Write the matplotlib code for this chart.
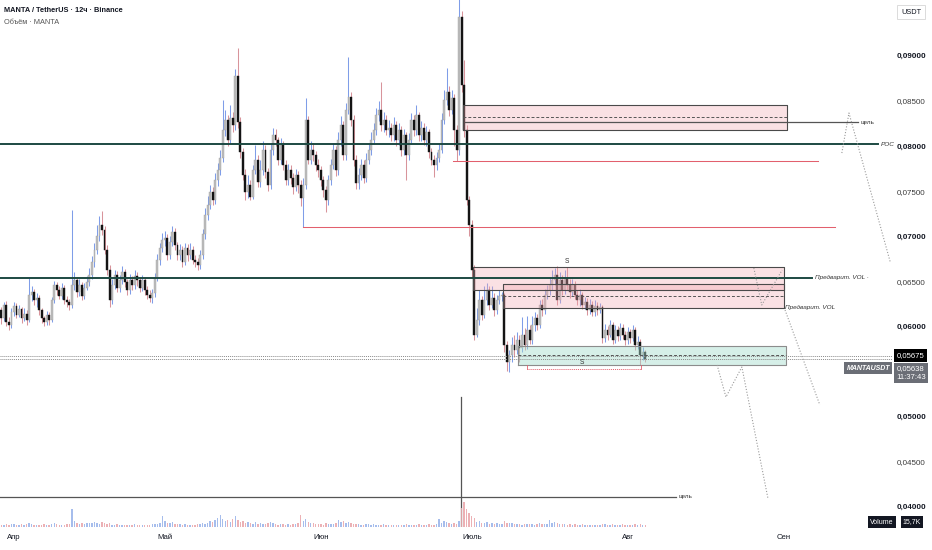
import matplotlib
matplotlib.use('Agg')
import matplotlib.pyplot as plt
import numpy as np
import pandas as pd

# MANTA/USDT 12h candles, first bar opens 29 Mar
t0 = pd.Timestamp('2025-03-29 00:00')
first_open = 0.0612
closes = [
    0.0618, 0.0609, 0.0624, 0.0605, 0.0601, 0.0616, 0.0623, 0.0613, 0.0619, 0.0609,
    0.0614, 0.0607, 0.0635, 0.0638, 0.0629, 0.0632, 0.0618, 0.0609, 0.0605, 0.0613,
    0.0607, 0.0629, 0.0646, 0.0640, 0.0634, 0.0643, 0.0629, 0.0627, 0.0624, 0.0646,
    0.0651, 0.0638, 0.0646, 0.0634, 0.0643, 0.0649, 0.0657, 0.0671, 0.0685, 0.0700,
    0.0712, 0.0707, 0.0685, 0.0663, 0.0629, 0.0646, 0.0657, 0.0643, 0.0651, 0.0660,
    0.0649, 0.0640, 0.0651, 0.0646, 0.0656, 0.0651, 0.0643, 0.0651, 0.0640, 0.0635,
    0.0632, 0.0637, 0.0654, 0.0674, 0.0687, 0.0696, 0.0698, 0.0679, 0.0694, 0.0705,
    0.0690, 0.0679, 0.0685, 0.0671, 0.0687, 0.0679, 0.0685, 0.0674, 0.0671, 0.0668,
    0.0679, 0.0702, 0.0724, 0.0735, 0.0749, 0.0740, 0.0762, 0.0773, 0.0787, 0.0818,
    0.0829, 0.0807, 0.0831, 0.0823, 0.0878, 0.0827, 0.0793, 0.0768, 0.0749, 0.0757,
    0.0743, 0.0773, 0.0785, 0.0760, 0.0773, 0.0796, 0.0771, 0.0757, 0.0796, 0.0812,
    0.0807, 0.0785, 0.0801, 0.0779, 0.0762, 0.0773, 0.0765, 0.0754, 0.0768, 0.0757,
    0.0742, 0.0757, 0.0829, 0.0785, 0.0796, 0.0790, 0.0779, 0.0773, 0.0762, 0.0751,
    0.0740, 0.0762, 0.0779, 0.0796, 0.0773, 0.0807, 0.0823, 0.0790, 0.0840, 0.0854,
    0.0829, 0.0785, 0.0759, 0.0768, 0.0779, 0.0765, 0.0785, 0.0796, 0.0807, 0.0818,
    0.0834, 0.0840, 0.0823, 0.0829, 0.0818, 0.0820, 0.0812, 0.0823, 0.0807, 0.0818,
    0.0796, 0.0812, 0.0790, 0.0807, 0.0829, 0.0818, 0.0834, 0.0812, 0.0820, 0.0807,
    0.0815, 0.0793, 0.0785, 0.0779, 0.0787, 0.0796, 0.0829, 0.0851, 0.0860, 0.0840,
    0.0853, 0.0818, 0.0796, 0.0943, 0.0868, 0.0818, 0.0740, 0.0712, 0.0663, 0.0591,
    0.0607, 0.0629, 0.0613, 0.0629, 0.0640, 0.0624, 0.0632, 0.0618, 0.0629, 0.0634,
    0.0635, 0.0579, 0.0561, 0.0568, 0.0579, 0.0574, 0.0585, 0.0576, 0.0591, 0.0579,
    0.0596, 0.0585, 0.0602, 0.0609, 0.0602, 0.0624, 0.0618, 0.0635, 0.0640, 0.0646,
    0.0651, 0.0657, 0.0629, 0.0651, 0.0640, 0.0654, 0.0646, 0.0638, 0.0646, 0.0635,
    0.0629, 0.0635, 0.0624, 0.0627, 0.0618, 0.0624, 0.0616, 0.0623, 0.0618, 0.0621,
    0.0587, 0.0596, 0.0591, 0.0602, 0.0585, 0.0596, 0.0589, 0.0598, 0.0591, 0.0585,
    0.0594, 0.0587, 0.0596, 0.0579, 0.0583, 0.0568, 0.0572, 0.05638,
]
highs = [
    0.0624, 0.0622, 0.0627, 0.0628, 0.0610, 0.0620, 0.0627, 0.0626, 0.0624, 0.0622,
    0.0620, 0.0618, 0.0654, 0.0645, 0.0641, 0.0637, 0.0635, 0.0620, 0.0612, 0.0617,
    0.0616, 0.0633, 0.0650, 0.0649, 0.0645, 0.0648, 0.0646, 0.0634, 0.0630, 0.0729,
    0.0660, 0.0655, 0.0652, 0.0649, 0.0648, 0.0656, 0.0665, 0.0678, 0.0692, 0.0712,
    0.0722, 0.0728, 0.0711, 0.0690, 0.0668, 0.0652, 0.0663, 0.0661, 0.0657, 0.0667,
    0.0664, 0.0653, 0.0658, 0.0656, 0.0662, 0.0660, 0.0655, 0.0657, 0.0654, 0.0645,
    0.0640, 0.0642, 0.0659, 0.0680, 0.0693, 0.0703, 0.0706, 0.0702, 0.0700, 0.0711,
    0.0709, 0.0694, 0.0691, 0.0689, 0.0692, 0.0691, 0.0693, 0.0689, 0.0679, 0.0676,
    0.0685, 0.0708, 0.0731, 0.0745, 0.0757, 0.0754, 0.0770, 0.0781, 0.0796, 0.0851,
    0.0840, 0.0834, 0.0846, 0.0838, 0.0885, 0.0909, 0.0832, 0.0798, 0.0774, 0.0768,
    0.0762, 0.0779, 0.0801, 0.0790, 0.0785, 0.0806, 0.0801, 0.0776, 0.0803, 0.0820,
    0.0819, 0.0810, 0.0809, 0.0805, 0.0784, 0.0780, 0.0779, 0.0770, 0.0775, 0.0772,
    0.0762, 0.0765, 0.0853, 0.0833, 0.0805, 0.0803, 0.0795, 0.0786, 0.0778, 0.0767,
    0.0756, 0.0768, 0.0786, 0.0803, 0.0800, 0.0815, 0.0833, 0.0828, 0.0848, 0.0899,
    0.0860, 0.0834, 0.0790, 0.0776, 0.0786, 0.0784, 0.0792, 0.0803, 0.0815, 0.0826,
    0.0842, 0.0850, 0.0871, 0.0838, 0.0834, 0.0829, 0.0826, 0.0832, 0.0828, 0.0825,
    0.0822, 0.0819, 0.0816, 0.0814, 0.0837, 0.0834, 0.0845, 0.0838, 0.0828, 0.0825,
    0.0822, 0.0819, 0.0798, 0.0790, 0.0793, 0.0803, 0.0837, 0.0862, 0.0887, 0.0866,
    0.0862, 0.0858, 0.0823, 0.0985, 0.0950, 0.0895, 0.0823, 0.0745, 0.0718, 0.0668,
    0.0620, 0.0640, 0.0634, 0.0645, 0.0648, 0.0645, 0.0645, 0.0637, 0.0635, 0.0640,
    0.0638, 0.0637, 0.0584, 0.0574, 0.0588, 0.0590, 0.0594, 0.0590, 0.0610, 0.0598,
    0.0611, 0.0601, 0.0612, 0.0616, 0.0614, 0.0629, 0.0630, 0.0641, 0.0646, 0.0655,
    0.0663, 0.0665, 0.0667, 0.0660, 0.0657, 0.0662, 0.0666, 0.0652, 0.0652, 0.0650,
    0.0640, 0.0641, 0.0638, 0.0633, 0.0631, 0.0630, 0.0628, 0.0629, 0.0627, 0.0626,
    0.0624, 0.0603, 0.0600, 0.0607, 0.0605, 0.0601, 0.0600, 0.0604, 0.0603, 0.0595,
    0.0599, 0.0597, 0.0601, 0.0599, 0.0589, 0.0586, 0.0577, 0.0574,
]
lows = [
    0.0606, 0.0603, 0.0606, 0.0600, 0.0596, 0.0598, 0.0612, 0.0609, 0.0610, 0.0604,
    0.0606, 0.0602, 0.0605, 0.0628, 0.0624, 0.0622, 0.0613, 0.0604, 0.0600, 0.0602,
    0.0601, 0.0605, 0.0626, 0.0635, 0.0630, 0.0630, 0.0625, 0.0621, 0.0618, 0.0620,
    0.0640, 0.0633, 0.0634, 0.0629, 0.0630, 0.0640, 0.0645, 0.0652, 0.0666, 0.0680,
    0.0695, 0.0701, 0.0680, 0.0657, 0.0621, 0.0625, 0.0641, 0.0638, 0.0638, 0.0647,
    0.0644, 0.0635, 0.0636, 0.0640, 0.0642, 0.0645, 0.0638, 0.0639, 0.0635, 0.0630,
    0.0627, 0.0626, 0.0633, 0.0650, 0.0668, 0.0682, 0.0689, 0.0674, 0.0675, 0.0689,
    0.0685, 0.0674, 0.0674, 0.0666, 0.0668, 0.0673, 0.0675, 0.0669, 0.0666, 0.0662,
    0.0664, 0.0675, 0.0697, 0.0718, 0.0730, 0.0735, 0.0736, 0.0756, 0.0768, 0.0782,
    0.0811, 0.0800, 0.0803, 0.0815, 0.0818, 0.0820, 0.0787, 0.0762, 0.0740, 0.0742,
    0.0740, 0.0741, 0.0769, 0.0755, 0.0755, 0.0768, 0.0765, 0.0750, 0.0752, 0.0790,
    0.0800, 0.0779, 0.0780, 0.0773, 0.0757, 0.0757, 0.0758, 0.0747, 0.0750, 0.0748,
    0.0733, 0.0710, 0.0752, 0.0780, 0.0780, 0.0783, 0.0772, 0.0766, 0.0756, 0.0744,
    0.0727, 0.0735, 0.0757, 0.0774, 0.0767, 0.0768, 0.0800, 0.0784, 0.0785, 0.0835,
    0.0822, 0.0778, 0.0752, 0.0752, 0.0762, 0.0759, 0.0760, 0.0780, 0.0790, 0.0802,
    0.0812, 0.0828, 0.0817, 0.0815, 0.0812, 0.0810, 0.0805, 0.0806, 0.0800, 0.0801,
    0.0789, 0.0790, 0.0762, 0.0785, 0.0802, 0.0811, 0.0812, 0.0806, 0.0806, 0.0801,
    0.0800, 0.0787, 0.0779, 0.0766, 0.0773, 0.0782, 0.0792, 0.0824, 0.0845, 0.0833,
    0.0835, 0.0800, 0.0783, 0.0790, 0.0860, 0.0810, 0.0735, 0.0700, 0.0655, 0.0585,
    0.0588, 0.0602, 0.0607, 0.0609, 0.0624, 0.0618, 0.0620, 0.0612, 0.0614, 0.0625,
    0.0628, 0.0572, 0.0551, 0.0549, 0.0560, 0.0566, 0.0569, 0.0560, 0.0572, 0.0574,
    0.0575, 0.0580, 0.0580, 0.0595, 0.0596, 0.0598, 0.0612, 0.0614, 0.0630, 0.0635,
    0.0640, 0.0646, 0.0624, 0.0626, 0.0635, 0.0636, 0.0640, 0.0632, 0.0634, 0.0630,
    0.0624, 0.0623, 0.0619, 0.0619, 0.0613, 0.0614, 0.0611, 0.0612, 0.0613, 0.0615,
    0.0582, 0.0583, 0.0585, 0.0588, 0.0580, 0.0582, 0.0584, 0.0585, 0.0586, 0.0579,
    0.0581, 0.0582, 0.0584, 0.0574, 0.0575, 0.0557, 0.0563, 0.0561,
]
volumes_k = [
    20, 25, 18, 30, 22, 28, 35, 20, 25, 30,
    22, 28, 45, 30, 25, 20, 18, 26, 30, 22,
    25, 30, 40, 28, 24, 20, 26, 30, 35, 190,
    60, 45, 35, 40, 30, 38, 42, 45, 50, 40,
    35, 55, 40, 30, 45, 25, 22, 28, 20, 25,
    22, 18, 25, 20, 28, 22, 18, 25, 20, 22,
    25, 30, 28, 35, 40, 115, 60, 45, 38, 50,
    35, 30, 28, 25, 30, 22, 26, 20, 25, 30,
    35, 40, 30, 45, 60, 55, 70, 90, 125, 80,
    60, 75, 50, 85, 110, 70, 55, 60, 40, 50,
    45, 35, 50, 30, 40, 35, 28, 45, 55, 40,
    30, 25, 28, 35, 22, 30, 25, 28, 32, 40,
    125, 60, 80, 55, 40, 45, 30, 35, 28, 25,
    40, 35, 30, 28, 45, 70, 50, 60, 40, 55,
    45, 30, 28, 35, 25, 22, 30, 28, 25, 30,
    22, 25, 20, 28, 24, 22, 20, 25, 22, 26,
    24, 22, 28, 25, 20, 26, 22, 28, 25, 24,
    22, 30, 25, 20, 28, 80, 45, 60, 50, 40,
    35, 45, 30, 60, 200, 260, 190, 150, 110, 90,
    50, 60, 45, 40, 55, 35, 40, 30, 45, 35,
    30, 65, 45, 40, 38, 35, 30, 28, 25, 32,
    30, 28, 35, 25, 30, 40, 28, 35, 30, 70,
    45, 50, 40, 35, 30, 28, 25, 30, 22, 28,
    25, 22, 28, 20, 25, 22, 26, 20, 24, 22,
    35, 28, 25, 22, 30, 20, 25, 22, 28, 20,
    22, 25, 20, 28, 22, 30, 25, 15.7,
]

months = ['2025-04-01', '2025-05-01', '2025-06-01', '2025-07-01', '2025-08-01', '2025-09-01']
month_labels = ['Апр', 'Май', 'Июн', 'Июль', 'Авг', 'Сен']
price_ticks = [0.040, 0.045, 0.050, 0.060, 0.065, 0.070, 0.075, 0.080, 0.085, 0.090]

# drawings: zones
box_starts = ['2025-06-29 06:00', '2025-07-01 06:00', '2025-07-07 05:00', '2025-07-10 05:00']
box_ends = ['2025-09-01 16:00', '2025-09-01 02:00', '2025-09-01 02:00', '2025-09-01 12:00']
box_lows = [0.08177, 0.06404, 0.06204, 0.05572]
box_highs = [0.08455, 0.06659, 0.06470, 0.05783]
box_mids = [0.08322, None, 0.06337, 0.05683]
box_kind = ['red', 'red', 'red', 'green']

# drawings: horizontal levels
level_prices = [0.0802, 0.0654, 0.07834, 0.0710, 0.08266, 0.04109]
level_starts = ['2025-03-20', '2025-03-20', '2025-06-27 07:00', '2025-05-28 11:00',
                '2025-06-29 16:00', '2025-03-20']
level_ends = ['2025-09-19 19:00', '2025-09-06 15:30', '2025-09-07 19:00', '2025-09-11 05:00',
              '2025-09-15 19:00', '2025-08-10 14:00']
level_labels = ['POC', 'Предварит. VOL ·', '', '', 'цель', 'цель']
level_kind = ['green', 'green', 'red', 'red', 'gray', 'gray']

# drawings: dotted forecast paths
paths_t = [
    ['2025-09-12 14:00', '2025-09-14 00:00', '2025-09-22 05:00'],
    ['2025-08-26 02:00', '2025-08-27 16:00', '2025-08-31 17:00'],
    ['2025-09-01 07:00', '2025-09-08 05:00'],
    ['2025-08-18 19:00', '2025-08-20 13:00', '2025-08-23 17:00', '2025-08-28 21:00'],
]
paths_p = [
    [0.07922, 0.08366, 0.06714],
    [0.06647, 0.06237, 0.06625],
    [0.06182, 0.05129],
    [0.05572, 0.05217, 0.05550, 0.04098],
]

sweep_t = ['2025-07-12 00:00', '2025-08-03 17:00']
sweep_p = 0.05528
vline_t = '2025-06-28 21:00'
vline_p = [0.0522, 0.0370]
s_labels_t = ['2025-07-19 22:00', '2025-07-23 00:00']
s_labels_p = [0.0672, 0.0560]
mark_price = 0.05675
last_price = 0.05638


def day(s):
    return (pd.Timestamp(s) - t0) / pd.Timedelta('1D')


plt.rcParams['font.family'] = ['Liberation Sans', 'DejaVu Sans']

o = np.array([first_open] + closes[:-1])
c = np.array(closes)
h = np.array(highs)
l = np.array(lows)
x = np.arange(len(c)) * 0.5
up = c >= o

fig = plt.figure(figsize=(9.32, 5.5), dpi=100)
ax = fig.add_axes([0, 23 / 550, 892 / 932, 527 / 550])
x_left = 0.22
ax.set_xlim(x_left, x_left + 892 / 5.03)
ax.set_ylim(0.03776, 0.096186)

# volume overlay
ax2 = ax.twinx()
ax2.set_ylim(0, 5500)
vcol = np.where(up, '#9db6ea', '#eaa9ad')
ax2.bar(x, volumes_k, width=0.28, color=vcol, alpha=0.9)
ax2.set_yticks([])
for sp in ax2.spines.values():
    sp.set_visible(False)

# candles
ax.vlines(x[up], l[up], h[up], color='#7f9de8', lw=0.75, zorder=2)
ax.vlines(x[~up], l[~up], h[~up], color='#d8949b', lw=0.75, zorder=2)
ax.bar(x[up], c[up] - o[up], bottom=o[up], width=0.38, color='#bcbcbc',
       edgecolor='#a4a4a4', lw=0.3, zorder=2.1)
ax.bar(x[~up], c[~up] - o[~up], bottom=o[~up], width=0.38, color='#141414',
       edgecolor='#141414', lw=0.3, zorder=2.1)

# zones
for s, e, lo, hi, mid, kind in zip(box_starts, box_ends, box_lows, box_highs, box_mids, box_kind):
    x0, x1 = day(s), day(e)
    if kind == 'red':
        ax.fill_between([x0, x1], lo, hi, color='#f3a9b2', alpha=0.35, lw=0, zorder=3)
        ec = '#4a4a4a'
    else:
        ax.fill_between([x0, x1], lo, hi, color='#a6dccd', alpha=0.45, lw=0, zorder=3)
        ec = '#8c8c8c'
    ax.plot([x0, x1, x1, x0, x0], [lo, lo, hi, hi, lo], color=ec, lw=0.8, zorder=3.2)
    if mid is not None:
        ax.plot([x0, x1], [mid, mid], color='#555555', lw=0.7, ls=(0, (3, 2)), zorder=3.2)

# levels
lcolors = {'green': '#1d4a42', 'red': '#e2606d', 'gray': '#555555'}
lwidths = {'green': 1.4, 'red': 0.75, 'gray': 0.9}
for p, s, e, lab, kind in zip(level_prices, level_starts, level_ends, level_labels, level_kind):
    ax.plot([day(s), day(e)], [p, p], color=lcolors[kind], lw=lwidths[kind], zorder=3.5)
    if lab:
        ax.text(day(e) + 0.6, p, lab, fontsize=4.6, va='center', ha='left', color='#333333',
                style='italic' if lab != 'цель' else 'normal', zorder=4, clip_on=False)

# label under the lower zone
ax.text(day(box_ends[2]) + 0.2, box_lows[2], 'Предварит. VOL', fontsize=4.6, va='center',
        ha='left', style='italic', color='#333333', zorder=4)

# dotted paths
for pt, pp in zip(paths_t, paths_p):
    ax.plot([day(t) for t in pt], pp, color='#9a9a9a', lw=0.8, ls=(0, (1, 1.6)), zorder=3.6)

# liquidity sweep line
sx = [day(t) for t in sweep_t]
ax.plot(sx, [sweep_p, sweep_p], color='#e2606d', lw=0.7, ls=(0, (1, 1)), zorder=3.6)
for xx in sx:
    ax.plot([xx, xx], [sweep_p, sweep_p + 0.0004], color='#e2606d', lw=0.6, zorder=3.6)
for t, p in zip(s_labels_t, s_labels_p):
    ax.text(day(t), p, 'S', fontsize=4.8, ha='center', va='center', color='#333333', zorder=4)

# vertical marker line
ax.plot([day(vline_t)] * 2, vline_p, color='#555555', lw=0.9, zorder=3.5)

# price lines
for p in (mark_price, last_price):
    ax.axhline(p, color='#8a8a8a', lw=0.7, ls=(0, (1, 1)), zorder=3.4)

# axes look
for sp in ax.spines.values():
    sp.set_visible(False)
ax.yaxis.tick_right()
ax.set_yticks(price_ticks)
ax.set_yticklabels([f'{v:.5f}'.replace('.', ',') for v in price_ticks])
ax.tick_params(axis='y', length=0, pad=3.5, labelsize=5.8, labelcolor='#131722')
for v, tl in zip(price_ticks, ax.get_yticklabels()):
    if abs(v * 100 - round(v * 100)) < 1e-6:
        tl.set_fontweight('bold')
    else:
        tl.set_color('#3a3a3a')
ax.set_xticks([day(m) for m in months])
ax.set_xticklabels(month_labels)
ax.tick_params(axis='x', length=0, pad=5, labelsize=5.6, labelcolor='#131722')

# right side price tags
ax.annotate('0,05675', xy=(1, mark_price), xycoords=('axes fraction', 'data'),
            xytext=(3.2, 0), textcoords='offset points', ha='left', va='center',
            fontsize=5.6, color='white', annotation_clip=False, zorder=6,
            bbox=dict(boxstyle='square,pad=0.35', fc='#000000', ec='none'))
ax.annotate('0,05638\n11:37:43', xy=(1, last_price), xycoords=('axes fraction', 'data'),
            xytext=(3.2, -10), textcoords='offset points', ha='left', va='center',
            fontsize=5.6, color='white', annotation_clip=False, zorder=6, linespacing=1.25,
            bbox=dict(boxstyle='square,pad=0.3', fc='#6b6e76', ec='none'))
ax.annotate('MANTAUSDT', xy=(1, last_price), xycoords=('axes fraction', 'data'),
            xytext=(-1.5, -6.5), textcoords='offset points', ha='right', va='center',
            fontsize=5.0, color='white', weight='bold', style='italic',
            annotation_clip=False, zorder=6,
            bbox=dict(boxstyle='square,pad=0.3', fc='#6b6e76', ec='none'))

# header and corner labels
fig.text(4 / 932, 1 - 11 / 550, 'MANTA / TetherUS · 12ч · Binance', fontsize=5.3,
         weight='bold', color='#131722', va='center')
fig.text(4 / 932, 1 - 23 / 550, 'Объём · MANTA', fontsize=5.3, color='#555555', va='center')
fig.text(911 / 932, 1 - 12 / 550, 'USDT', fontsize=5.3, color='#131722', ha='center',
         va='center', bbox=dict(boxstyle='square,pad=0.5', fc='white', ec='#d6d6d6', lw=0.6))
fig.text(882 / 932, 1 - 522 / 550, 'Volume', fontsize=5.0, color='white', ha='center',
         va='center', bbox=dict(boxstyle='square,pad=0.3', fc='#131722', ec='none'))
fig.text(912 / 932, 1 - 522 / 550, '15,7K', fontsize=5.0, color='white', ha='center',
         va='center', bbox=dict(boxstyle='square,pad=0.3', fc='#131722', ec='none'))

fig.savefig('out.png', dpi=100, facecolor='white')
